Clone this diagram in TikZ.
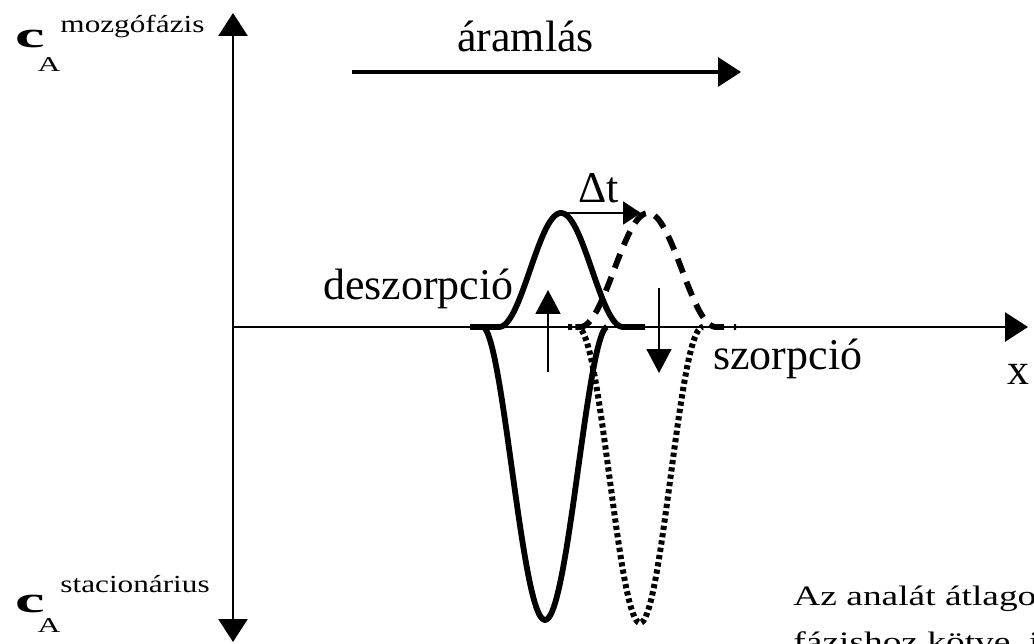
\documentclass[tikz,border=0pt]{standalone}
\usepackage{fontspec}
\setmainfont{Liberation Serif}
\usetikzlibrary{arrows.meta}

\begin{document}
\begin{tikzpicture}[
    x=0.02cm, y=-0.02cm,
    lbl/.style={inner sep=0pt, anchor=base west, font=\fontsize{25}{30}\selectfont},
    suplbl/.style={inner sep=0pt, anchor=base west, xscale=1.27, font=\fontsize{14}{17}\selectfont},
    sublbl/.style={inner sep=0pt, anchor=base west, xscale=1.5, font=\fontsize{12}{14}\selectfont},
    cbig/.style={inner sep=0pt, anchor=base west, xscale=1.8, font=\bfseries\fontsize{21}{25}\selectfont},
    notelbl/.style={inner sep=0pt, anchor=base west, xscale=1.33, font=\fontsize{16}{19}\selectfont},
    axis/.style={line width=1.5pt, -{Triangle[width=0.58cm,length=0.46cm]}},
    thinarrow/.style={line width=1.1pt, -{Triangle[width=0.5cm,length=0.48cm]}},
    curve/.style={line width=3.3pt, line join=round},
    dashcurve/.style={curve, dash pattern=on 8.5pt off 5.5pt},
    dotcurve/.style={curve, line width=3.4pt, dash pattern=on 2.4pt off 1.8pt}
]
    \useasboundingbox (0,0) rectangle (1034,644);
    \clip (0,0) rectangle (1034,644);

    % axes
    \coordinate (o) at (233,327);
    \coordinate (ytop) at (233,13);
    \coordinate (ybot) at (233,642);
    \coordinate (xend) at (1028,327);
    \draw[axis] (o) -- (ytop);
    \draw[axis] (o) -- (ybot);
    \draw[axis] (o) -- (xend);
    \node[lbl] (xlbl) at (1007,385) {x};

    % axis labels
    \node[cbig] (c1) at (15,48) {c};
    \node[sublbl] (a1) at (37,72) {A};
    \node[suplbl] (s1) at (60,33) {mozgófázis};
    \node[cbig] (c2) at (15,612) {c};
    \node[sublbl] (a2) at (37,632) {A};
    \node[suplbl] (s2) at (60,593) {stacionárius};

    % flow
    \node[lbl] (flow) at (457,52) {áramlás};
    \coordinate (f1) at (352,72);
    \coordinate (f2) at (741,72);
    \draw[axis, line width=1.8pt] (f1) -- (f2);

    % peaks
    \draw[curve] (470,327) -- (499,327)
        -- plot[domain=499:623, samples=80] (\x, {327-114*(abs(cos(90*(\x-561)/62)))^2})
        -- (645,327);
    \draw[dashcurve] (577,327)
        -- plot[domain=580:716, samples=80] (\x, {327-114*(abs(cos(90*(\x-648)/68)))^2})
        -- (736,327);
    \draw[curve] plot[domain=483:607, samples=80] (\x, {327+293*(abs(cos(90*(\x-545)/62)))^1.8});
    \draw[dotcurve] (568,327)
        -- plot[domain=577:703, samples=80] (\x, {327+296*(abs(cos(90*(\x-640)/63)))^2.1});

    % shift
    \coordinate (p1) at (565,213);
    \coordinate (p2) at (641,213);
    \draw[thinarrow, -{Triangle[width=0.46cm,length=0.36cm]}] (p1) -- (p2);
    \node[lbl] (dt) at (578,203) {Δt};

    % exchange
    \coordinate (u1) at (548,372);
    \coordinate (u2) at (548,290);
    \draw[thinarrow] (u1) -- (u2);
    \coordinate (d1) at (659,288);
    \coordinate (d2) at (659,373);
    \draw[thinarrow] (d1) -- (d2);
    \node[lbl] (desz) at (323,300) {deszorpció};
    \node[lbl] (szor) at (713,370) {szorpció};

    % note
    \node[notelbl] (n1) at (793,605) {Az analát átlagos};
    \node[notelbl] (n2) at (793,651) {fázishoz kötve, il};
\end{tikzpicture}
\end{document}
